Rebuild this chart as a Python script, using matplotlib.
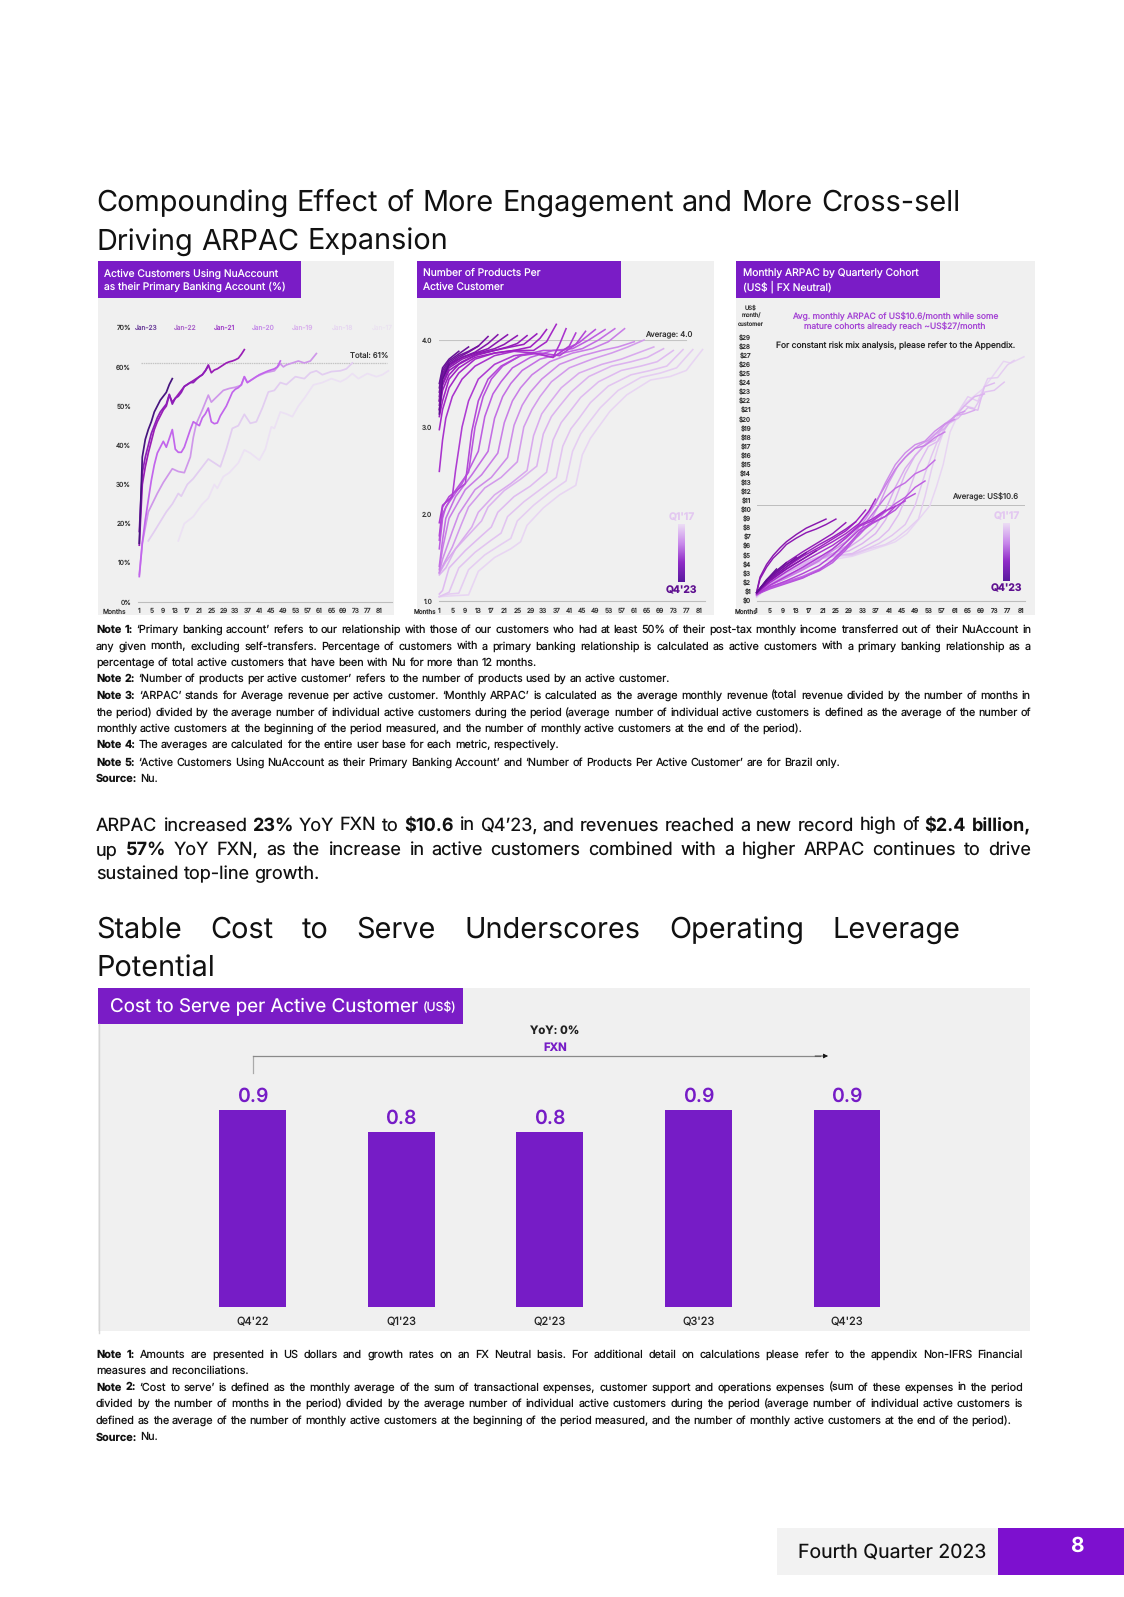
import numpy as np
import matplotlib
matplotlib.use("Agg")
import matplotlib.pyplot as plt
from matplotlib.colors import LinearSegmentedColormap

# ---------- chart 1: primary banking account (%) ----------
jan23_m = [1,2,3,4,5,6,7,8,9,10,11,12]
jan23_v = [15,37,41.5,44,46,48.5,50,51.5,52.5,53.5,55.5,57]
jan22_m = [1,2,3,4,5,6,7,8,9,10,11,12,13,14,15,16,17,18,19,20,21,22,23,24]
jan22_v = [18,33,37,40,43,45,47,48.5,49.5,50.5,53,50.5,52,52.5,53.5,55,55.5,56,56,56.8,57.5,58,59,60.2]
jan21_m = [1,2,3,4,5,6,7,8,9,10,11,12,13,14,15,16,17,18,19,20,21,22,23,24,25,26,27,28,29,30,31,32,33,34,35,36]
jan21_v = [14.5,30,34.5,38,41,44,46,47.5,49,50,52.8,51,52,53,54,55,55.5,56,56.5,57,57.5,58,59,60.5,58.5,59.2,59.5,60,60.5,61,61.3,61.5,61.8,62.2,63.2,64.4]
jan20_m = [1,2,3,4,5,6,7,8,9,10,12,13,14,15,16,18,19,20,21,22,23,24,25,26,27,28,30,32,33,34,35,36,37,39,41,44,46,47,48]
jan20_v = [6.5,15,21,26,31,35,38,39.5,41,39.5,44,39,38.2,38.2,39.5,44,46,45.5,45,47,48,49.5,46,45.5,45.7,47.5,50,53.5,54.3,54.7,55.5,57.5,56,57,58,59,59.5,60,61.5]
jan19_m = [1,2,3,4,7,9,12,14,16,18,19,20,22,24,25,27,29,31,33,35,36,37,40,43,46,48,49,50,52,54,56,58,60]
jan19_v = [7,15,19,23,27.7,30.5,34,33.3,33,37,42,45.5,49,52.8,51,52.5,54,54.5,54.8,55.3,57.5,56,57.5,58.5,59,60.8,60,60.5,61,61.5,61,61.5,63.4]
jan18_m = [4,6,8,10,12,14,15,17,19,21,24,26,28,30,32,34,36,38,40,42,44,46,48,50,53,56,58,60,62,65,68,70,72]
jan18_v = [15.6,18,20.5,23,25,27.7,27,30,31.5,33.5,36.5,35.5,34.5,39,44.3,45,47.9,45.6,46,49.5,53.6,54,56,55.5,57.5,57,58.5,59,58,58.8,59,59.5,61]
jan17_m = [14,16,19,22,24,26,27,29,31,34,36,38,41,43,45,46,48,50,52,54,56,59,62,65,68,70,72,74,77,80,82,84]
jan17_v = [15.6,20,21.8,25,26.5,30,29,32,33,35.5,38.8,38,36.2,39,44.7,44.3,48.5,48,47.3,50,52,55.4,56,57,56.2,57,58.3,57,58.3,57.5,58,59]
nu_labels = ["Jan-23","Jan-22","Jan-21","Jan-20","Jan-19","Jan-18","Jan-17"]
nu_total = 61

# ---------- chart 2: products per active customer, oldest cohort first ----------
p00_m=[1,5,10,13,18,23,26,28,33,38,43,45,47.5,50,53.5,58.7,66,72,77,82]
p00_v=[1.05,1.06,1.07,1.34,1.5,1.6,1.68,1.87,2.07,2.22,2.33,2.68,2.87,3.0,3.18,3.37,3.54,3.58,3.65,3.89]
p01_m=[1,4,7,10,15,20,23,25,30,35,40,42,44.5,47,50.5,56,63,69,74,79]
p01_v=[1.05,1.08,1.09,1.36,1.53,1.65,1.72,1.92,2.1,2.25,2.38,2.72,2.92,3.05,3.22,3.42,3.57,3.62,3.68,3.89]
p02_m=[1,4,7,12,17,20,22,27,32,37,39,41.5,44,47.5,53,60,66,71,76]
p02_v=[1.05,1.1,1.38,1.56,1.7,1.78,1.97,2.14,2.28,2.42,2.78,2.98,3.1,3.28,3.47,3.6,3.65,3.7,3.89]
p03_m=[1,2,4,9,14,17,19,24,29,34,36,38.5,41,44.5,50,57,63,68,73]
p03_v=[1.08,1.12,1.38,1.58,1.75,1.85,2.02,2.2,2.32,2.48,2.85,3.05,3.17,3.34,3.52,3.65,3.7,3.75,3.88]
p04_m=[1,3,6,11,14,16,21,26,31,33,35.5,38,41.5,47,54,60,65,70]
p04_v=[1.3,1.38,1.6,1.8,1.92,2.08,2.27,2.4,2.55,2.92,3.12,3.24,3.4,3.58,3.7,3.75,3.8,3.9]
p05_m=[1,3,8,11,13,18,23,28,30,32.5,35,38.5,44,51,57,62,67]
p05_v=[1.32,1.45,1.7,1.85,2.02,2.22,2.35,2.5,2.9,3.15,3.28,3.45,3.62,3.72,3.78,3.85,3.92]
p06_m=[1,2,5,8,10,15,20,25,27,29.5,32,35.5,41,48,54,59,64]
p06_v=[1.32,1.4,1.62,1.9,2.08,2.3,2.42,2.6,3.0,3.2,3.35,3.52,3.68,3.78,3.85,3.92,4.0]
p07_m=[1,2,5,7,12,17,22,24,26.5,29,32.5,38,45,51,56,61]
p07_v=[1.33,1.48,1.8,2.0,2.28,2.42,2.65,3.02,3.25,3.4,3.55,3.72,3.82,3.88,3.92,3.98]
p08_m=[1,2,4,9,14,19,21,23.5,26,29.5,35,42,48,53,58]
p08_v=[1.36,1.6,1.95,2.28,2.45,2.7,3.05,3.3,3.45,3.6,3.75,3.85,3.9,3.98,4.13]
p09_m=[1,2,3,6,11,16,18,20.5,23,26.5,32,39,45,50,55]
p09_v=[1.4,1.7,1.95,2.2,2.45,2.72,3.1,3.35,3.5,3.65,3.78,3.85,3.9,4.0,4.13]
p10_m=[1,2,3,8,13,15,17.5,20,23.5,29,36,42,47,52]
p10_v=[1.6,1.95,2.08,2.35,2.72,3.12,3.38,3.52,3.68,3.8,3.88,3.9,4.0,4.12]
p11_m=[1,2,5,10,12,14.5,17,20.5,26,33,39,44,49]
p11_v=[1.7,2.0,2.22,2.48,3.0,3.35,3.55,3.7,3.82,3.88,3.88,3.97,4.12]
p12_m=[1,2,4,9,11,13,16,20,26,32,38,43,46]
p12_v=[1.75,2.08,2.2,2.35,2.95,3.3,3.55,3.7,3.82,3.85,3.82,3.95,4.1]
p13_m=[1,2,5,6,8,10,13,18,24,30,36,41,43]
p13_v=[1.9,2.1,2.2,2.5,3.0,3.3,3.55,3.72,3.82,3.85,3.8,3.93,4.08]
p14_m=[1,2,3,5,8,12,18,24,30,36,38,40]
p14_v=[2.49,2.85,3.1,3.35,3.55,3.7,3.82,3.87,3.85,3.8,3.95,4.13]
p15_m=[1,2,4,7,12,18,24,30,34,37]
p15_v=[2.97,3.2,3.45,3.62,3.78,3.85,3.88,3.88,3.98,4.18]
p16_m=[1,2,4,7,12,18,24,29,32,34]
p16_v=[3.12,3.3,3.55,3.68,3.8,3.85,3.88,3.92,4.02,4.12]
p17_m=[1,2,4,7,12,18,23,27,31]
p17_v=[3.2,3.42,3.6,3.72,3.82,3.88,3.92,3.95,4.07]
p18_m=[1,2,4,8,13,18,22,25,28]
p18_v=[3.2,3.48,3.65,3.75,3.84,3.88,3.92,3.96,4.05]
p19_m=[1,2,4,8,13,18,21,25]
p19_v=[3.25,3.5,3.68,3.78,3.85,3.9,3.95,4.05]
p20_m=[1,2,4,8,12,16,19,22]
p20_v=[3.3,3.55,3.7,3.8,3.85,3.9,3.98,4.06]
p21_m=[1,2,4,8,12,16,19]
p21_v=[3.3,3.58,3.72,3.8,3.86,3.96,4.06]
p22_m=[1,2,4,7,10,13,16]
p22_v=[3.35,3.6,3.72,3.8,3.86,3.93,4.04]
p23_m=[1,2,4,7,10,13]
p23_v=[3.4,3.62,3.74,3.82,3.87,3.93]
p24_m=[1,2,4,7,10]
p24_v=[3.45,3.65,3.76,3.84,3.92]
p25_m=[1,2,4,7]
p25_v=[3.5,3.68,3.78,3.87]
p26_m=[1,2,4]
p26_v=[3.15,3.55,3.72]
products_avg = 4.0

# ---------- chart 3: monthly ARPAC, oldest cohort first ----------
a00_m=[1,5,10,15,20,25,30,35,40,43,46.5,49.5,53.5,55.5,57.5,59.6,62,63.6,66,69.7,72,75.8,78,82]
a00_v=[0.4,1.8,2.8,3.6,4.2,4.6,4.9,5.5,6.1,6.5,7.4,8.7,10.5,12.6,15,18.6,20.5,21.6,22.3,23.4,24.5,26.4,26.2,26.9]
a01_m=[1,5,10,15,20,25,30,35,40,43,46.5,50,52,54,56,58,60,62,65,68,71,74,77,79]
a01_v=[0.4,1.7,3.0,3.9,4.6,4.9,5,5.7,6.2,6.8,7.8,9.0,11.5,14.5,17,19,20,20.8,22.5,22,24.5,24.6,26,26.5]
a02_m=[1,5,10,15,20,25,30,35,38,42,46,49,52,54,56,58,61,64,67,70,73,76]
a02_v=[0.5,1.9,3.2,4,4.6,5,5.1,5.8,6.3,7.2,8.4,10.5,14,16,17.8,19,20.3,21.5,21.2,23,23.2,24.1]
a03_m=[1,5,10,15,20,25,30,34,38,41,44,47,50,53,56,59,62,65,68,70,73]
a03_v=[0.5,2,3.4,4.2,4.8,5,5.2,6,6.8,7.8,9.5,12,15,17,17.6,19.5,20.1,21.3,21,23.6,24]
a04_m=[1,5,10,15,20,25,29,33,37,40,43,46,49,52,55,58,61,64,67,70]
a04_v=[0.6,2.1,3.3,4.1,4.9,5.1,5.5,6.3,7.4,8.9,11.2,14,16,17.2,17.7,19.5,20.3,21.5,22.5,22.8]
a05_m=[1,5,10,15,20,25,29,33,37,40,43,46,49,52,55,58,61,64,67]
a05_v=[0.6,2,3.1,3.9,4.7,5.3,5.9,6.9,8.2,10,12.5,14.6,16,17.2,18.3,19,20.4,20.6,21]
a06_m=[1,5,10,15,20,24,28,32,35,38,41,44,47,50,53,56,59,62,64]
a06_v=[0.6,1.8,2.8,3.6,4.5,5.2,6,7.2,8.5,10.5,13,15,16.2,17.1,17.7,18.7,19.7,20.6,20.9]
a07_m=[1,5,10,15,20,24,28,31,34,37,40,43,46,49,52,55,58,61]
a07_v=[0.6,1.7,2.6,3.5,4.5,5.5,6.5,7.6,9,10.7,13,15,16.3,17.2,17.6,18.7,19.5,20]
a08_m=[1,5,10,15,20,24,28,31,34,37,40,43,46,49,52,55,58]
a08_v=[0.6,1.7,2.5,3.4,4.4,5.7,6.9,8,9.3,10.8,12.7,14.5,15.8,16.8,17.1,18,18.6]
a09_m=[1,5,10,15,20,24,28,31,34,37,40,43,46,49,52,55]
a09_v=[0.7,1.5,2.1,2.7,3.5,4.4,5.8,7,8.6,10,11.4,12.4,13,14,14.5,15.5]
a10_m=[1,5,10,15,20,24,28,31,34,37,40,43,46,49,52]
a10_v=[0.7,1.4,2,2.6,3.3,4.2,5.6,6.9,8,9,9.8,10.7,11.4,12.5,13.2]
a11_m=[1,5,10,15,20,24,28,32,36,40,43,46,49]
a11_v=[0.7,1.3,1.9,2.5,3.4,4.5,5.9,7.5,8.5,9.3,10,11.2,11.8]
a12_m=[1,5,10,15,20,24,28,32,36,40,43,46]
a12_v=[0.7,1.5,2.2,3,3.9,5,6.4,7.8,8.6,9.3,10.4,11]
a13_m=[1,5,10,15,20,24,28,32,36,40,43]
a13_v=[0.7,1.7,2.7,3.7,4.8,5.7,6.9,8.2,8.8,9.9,10.4]
a14_m=[1,5,10,15,20,24,28,32,36,40]
a14_v=[0.8,2,3.2,4.3,5.3,6.1,7.1,8.3,9,10]
a15_m=[1,5,10,15,20,24,28,32,35,37]
a15_v=[0.8,2.2,3.5,4.6,5.7,6.5,7.4,8.5,9.9,11.2]
a16_m=[1,5,10,15,20,24,28,31,34]
a16_v=[0.8,2.3,3.7,4.9,5.9,6.8,7.7,8.7,10]
a17_m=[1,5,10,15,20,24,28,31]
a17_v=[0.9,2.5,4,5.1,6.2,7,7.9,8.7]
a18_m=[1,5,10,15,20,24,28]
a18_v=[0.9,2.6,4.2,5.4,6.5,7.4,8.6]
a19_m=[1,2,4,6,8,10,13,16,19,22,25]
a19_v=[0.9,2.4,3.7,4.7,5.4,6.2,6.9,7.5,7.9,8.4,9]
a20_m=[1,2,4,6,8,10,13,16,19,22]
a20_v=[1,2.6,4,5,5.8,6.5,7.3,8,8.5,9]
a21_m=[1,5,10,15,19]
a21_v=[0.9,2.2,3.5,4.6,5.5]
a22_m=[1,4,8,12,16]
a22_v=[0.9,2.1,3.2,4.3,5.3]
a23_m=[1,4,8,13]
a23_v=[0.9,2.2,3.4,4.8]
a24_m=[1,4,7,10]
a24_v=[0.9,2.3,3.3,4.2]
a25_m=[1,4,7]
a25_v=[0.9,2.3,3.5]
a26_m=[1,4]
a26_v=[0.9,2.2]
arpac_avg = 10.6

# ---------- chart 4: cost to serve ----------
cost_quarters = ["Q4'22","Q1'23","Q2'23","Q3'23","Q4'23"]
cost_values = [0.9,0.8,0.8,0.9,0.9]
month_ticks = list(range(1,82,4))

# ---------- text ----------
title1 = ["Compounding Effect of More Engagement and More Cross-sell","Driving ARPAC Expansion"]
title2 = ["Stable Cost to Serve Underscores Operating Leverage","Potential"]
notes1 = [
 ("**Note** **1:** ‘Primary banking account’ refers to our relationship with those of our customers who had at least 50% of their post-tax monthly income transferred out of their NuAccount in",True),
 ("any given month, excluding self-transfers. Percentage of customers with a primary banking relationship is calculated as active customers with a primary banking relationship as a",True),
 ("percentage of total active customers that have been with Nu for more than 12 months.",False),
 ("**Note** **2:** ‘Number of products per active customer’ refers to the number of products used by an active customer.",False),
 ("**Note** **3:** ‘ARPAC’ stands for Average revenue per active customer. ‘Monthly ARPAC’ is calculated as the average monthly revenue (total revenue divided by the number of months in",True),
 ("the period) divided by the average number of individual active customers during the period (average number of individual active customers is defined as the average of the number of",True),
 ("monthly active customers at the beginning of the period measured, and the number of monthly active customers at the end of the period).",False),
 ("**Note** **4:** The averages are calculated for the entire user base for each metric, respectively.",False),
 ("**Note** **5:** ‘Active Customers Using NuAccount as their Primary Banking Account’ and ‘Number of Products Per Active Customer’ are for Brazil only.",False),
 ("**Source:** Nu.",False)]
para = [
 ("ARPAC increased **23%** YoY FXN to **$10.6** in Q4’23, and revenues reached a new record high of **$2.4** **billion,**",True),
 ("up **57%** YoY FXN, as the increase in active customers combined with a higher ARPAC continues to drive",True),
 ("sustained top-line growth.",False)]
notes2 = [
 ("**Note** **1:** Amounts are presented in US dollars and growth rates on an FX Neutral basis. For additional detail on calculations please refer to the appendix Non-IFRS Financial",True),
 ("measures and reconciliations.",False),
 ("**Note** **2:** ‘Cost to serve’ is defined as the monthly average of the sum of transactional expenses, customer support and operations expenses (sum of these expenses in the period",True),
 ("divided by the number of months in the period) divided by the average number of individual active customers during the period (average number of individual active customers is",True),
 ("defined as the average of the number of monthly active customers at the beginning of the period measured, and the number of monthly active customers at the end of the period).",False),
 ("**Source:** Nu.",False)]

# ---------- drawing ----------
W, H = 1124, 1597
PURPLE = "#7a1cc6"
PANEL = "#f0f0f0"
FONT = "Inter"
plt.rcParams['font.family'] = [FONT, 'DejaVu Sans']
plt.rcParams['text.hinting'] = 'no_hinting'
plt.rcParams['text.hinting_factor'] = 1
fig = plt.figure(figsize=(W/100, H/100), dpi=100, facecolor="white")
bg = fig.add_axes([0,0,1,1], zorder=0)
bg.set_xlim(0,W); bg.set_ylim(H,0); bg.axis("off")
rend = fig.canvas.get_renderer()

def rect(x0,y0,x1,y1,c):
    bg.fill([x0,x1,x1,x0],[y0,y0,y1,y1],color=c,lw=0)

def width(word,size,weight,family):
    t = bg.text(0,0,word,fontsize=size,fontweight=weight,family=family)
    w = t.get_window_extent(rend).width
    t.remove()
    return w

def line(s,y,x0,x1,size,just,family="Inter",color="#111111"):
    words = s.split(" ")
    parts = []
    for w in words:
        b = w.startswith("**") and w.endswith("**")
        parts.append((w.strip("*"), "bold" if b else "normal"))
    ws = [width(p,size,wt,family) for p,wt in parts]
    space = width("a a",size,"normal",family)-width("aa",size,"normal",family)
    if just and len(parts) > 1:
        space = (x1-x0-sum(ws))/(len(parts)-1)
    x = x0
    base = y+0.36*size*100/72
    for (p,wt),wd in zip(parts,ws):
        bg.text(x,base,p,fontsize=size,fontweight=wt,family=family,color=color,va="baseline",ha="left")
        x += wd+space

def px_axes(x0,x1,ytop,ybot):
    a = fig.add_axes([x0/W,1-ybot/H,(x1-x0)/W,(ybot-ytop)/H],zorder=2)
    a.patch.set_alpha(0)
    for k in ("top","right","left"):
        a.spines[k].set_visible(False)
    a.spines["bottom"].set_color("#bdbdbd")
    a.spines["bottom"].set_linewidth(0.8)
    return a

TC = "#333333"
# panels + headers
for x0,x1,xh in [(98,394,301),(417,714,621),(736,1035,940)]:
    rect(x0,261,x1,615,PANEL)
    rect(x0,261,xh,298,PURPLE)
for x,a,b in [(104,"Active Customers Using NuAccount","as their Primary Banking Account (%)"),
              (423,"Number of Products Per","Active Customer"),
              (743,"Monthly ARPAC by Quarterly Cohort","(US$ | FX Neutral)")]:
    bg.text(x,273.5,a,color="white",fontsize=7.4,va="center")
    bg.text(x,287,b,color="white",fontsize=7.4,va="center")

# chart 1
ax1 = px_axes(138,392,327.7,602)
ax1.set_xlim(0.57,85.2); ax1.set_ylim(0,70)
nu_series = [(jan17_m,jan17_v,"#ece1f4"),(jan18_m,jan18_v,"#e2cdf1"),(jan19_m,jan19_v,"#cf97ea"),
             (jan20_m,jan20_v,"#c265ec"),(jan21_m,jan21_v,"#9a1db6"),(jan22_m,jan22_v,"#8e1fb8"),(jan23_m,jan23_v,"#47147f")]
ax1.axhline(nu_total,xmin=0.01,xmax=0.98,color="#c4c4c4",lw=0.9,ls=(0,(1.2,0.6)))
for m,v,c in nu_series:
    ax1.plot(m,v,color=c,lw=1.25,clip_on=False)
ax1.set_yticks(range(0,71,10)); ax1.set_yticklabels([f"{i}%" for i in range(0,71,10)])
ax1.set_xticks(month_ticks)
ax1.tick_params(axis="both",length=0,labelsize=4.8,labelcolor=TC)
ax1.tick_params(axis="x",pad=4.5); ax1.tick_params(axis="y",pad=5)
bg.text(114,612,"Months",fontsize=4.8,color=TC,ha="center",va="center")
bg.text(369,356,f"Total: {nu_total}%",fontsize=5.6,color=TC,ha="center",va="center")
for lab,x,c in zip(nu_labels,[146,185,224,263,303,343,382],
                   ["#6a3d99","#a860c8","#a040c8","#c48ae8","#d8b0ec","#e6d6f0","#ebe3f0"]):
    bg.text(x,328,lab,fontsize=4.8,color=c,ha="center",va="center")

# chart 2
cmap = LinearSegmentedColormap.from_list("nu",["#e8d5f3","#d8a8ee","#bb58e0","#a122c4","#8415ab","#5e1090"])
ax2 = px_axes(439.3,705,340,601)
ax2.set_xlim(1,82.75); ax2.set_ylim(1,4)
prod = [(p00_m,p00_v),(p01_m,p01_v),(p02_m,p02_v),(p03_m,p03_v),(p04_m,p04_v),(p05_m,p05_v),(p06_m,p06_v),
        (p07_m,p07_v),(p08_m,p08_v),(p09_m,p09_v),(p10_m,p10_v),(p11_m,p11_v),(p12_m,p12_v),(p13_m,p13_v),
        (p14_m,p14_v),(p15_m,p15_v),(p16_m,p16_v),(p17_m,p17_v),(p18_m,p18_v),(p19_m,p19_v),(p20_m,p20_v),
        (p21_m,p21_v),(p22_m,p22_v),(p23_m,p23_v),(p24_m,p24_v),(p25_m,p25_v),(p26_m,p26_v)]
ax2.axhline(products_avg,xmax=0.93,color="#c4c4c4",lw=0.8)
for i,(m,v) in enumerate(prod):
    ax2.plot(m,v,color=cmap(i/26),lw=1.15,clip_on=False)
ax2.set_yticks([1,2,3,4]); ax2.set_yticklabels(["1.0","2.0","3.0","4.0"])
ax2.set_xticks(month_ticks)
ax2.tick_params(axis="both",length=0,labelsize=4.8,labelcolor=TC)
ax2.tick_params(axis="x",pad=5); ax2.tick_params(axis="y",pad=5)
bg.text(425,612,"Months",fontsize=4.6,color=TC,ha="center",va="center")
bg.text(669,334,"Average: 4.0",fontsize=5.6,color=TC,ha="center",va="center")

# chart 3
ax3 = px_axes(756.7,1025,337.7,600.7)
ax3.set_xlim(1,82.3); ax3.set_ylim(0,29)
arp = [(a00_m,a00_v),(a01_m,a01_v),(a02_m,a02_v),(a03_m,a03_v),(a04_m,a04_v),(a05_m,a05_v),(a06_m,a06_v),
       (a07_m,a07_v),(a08_m,a08_v),(a09_m,a09_v),(a10_m,a10_v),(a11_m,a11_v),(a12_m,a12_v),(a13_m,a13_v),
       (a14_m,a14_v),(a15_m,a15_v),(a16_m,a16_v),(a17_m,a17_v),(a18_m,a18_v),(a19_m,a19_v),(a20_m,a20_v),
       (a21_m,a21_v),(a22_m,a22_v),(a23_m,a23_v),(a24_m,a24_v),(a25_m,a25_v),(a26_m,a26_v)]
ax3.axhline(arpac_avg,color="#bdbdbd",lw=0.7)
for i,(m,v) in enumerate(arp):
    ax3.plot(m,v,color=cmap(i/26),lw=1.05,clip_on=False)
ax3.set_yticks(range(0,30)); ax3.set_yticklabels([f"${i}" for i in range(0,30)])
ax3.set_xticks(month_ticks)
ax3.tick_params(axis="both",length=0,labelsize=4.6,labelcolor=TC)
ax3.tick_params(axis="x",pad=5); ax3.tick_params(axis="y",pad=4)
bg.text(746,612,"Months",fontsize=4.6,color=TC,ha="center",va="center")
for y,s in [(308,"US$"),(316,"month/"),(324,"customer")]:
    bg.text(751,y,s,fontsize=4.2,color=TC,ha="center",va="center")
bg.text(895,316,"Avg. monthly ARPAC of US$10.6/month while some",fontsize=6.1,color="#a443d4",ha="center",va="center")
bg.text(895,326.5,"mature cohorts already reach ~US$27/month",fontsize=6.1,color="#a443d4",ha="center",va="center")
bg.text(896,346,"For constant risk mix analysis, please refer to the Appendix.",fontsize=6.1,color="#222222",ha="center",va="center")
bg.text(985,497,f"Average: US${arpac_avg}",fontsize=5.6,color=TC,ha="center",va="center")

# cohort gradient keys
ramp = np.arange(64)[:,None]/63
for xc,yq1,ya,yb,yq4 in [(681.5,518,524,582,591),(1006.5,517,523,581,589)]:
    bg.imshow(ramp,extent=(xc-3.5,xc+3.5,yb,ya),cmap=LinearSegmentedColormap.from_list("k",["#ecdcf5","#c98aeb","#8f2bc7","#5a1a9e"]),aspect="auto",zorder=1)
    bg.text(xc,yq1,"Q1'17",fontsize=7.4,fontweight="bold",color="#e3c8f1",ha="center",va="center")
    bg.text(xc,yq4,"Q4'23",fontsize=7.4,fontweight="bold",color="#5e1090",ha="center",va="center")
bg.set_xlim(0,W); bg.set_ylim(H,0)

# chart 4
rect(98,988,1030,1331,PANEL)
rect(98,988,463,1024,PURPLE)
bg.plot([99,99],[1024,1333],color="#d6d6d6",lw=1)
bg.text(110,1007,"Cost to Serve per Active Customer",color="white",fontsize=13.5,va="center")
bg.text(423,1008,"(US$)",color="white",fontsize=8.8,va="center")
ax4 = px_axes(178.2,921.3,1110,1307)
ax4.spines["bottom"].set_visible(False)
ax4.set_xlim(-0.5,4.5); ax4.set_ylim(0,0.9)
ax4.bar(range(len(cost_values)),cost_values,width=0.45,color="#761cc6")
ax4.set_yticks([])
ax4.set_xticks(range(len(cost_quarters))); ax4.set_xticklabels(cost_quarters)
ax4.tick_params(axis="x",length=0,labelsize=8,pad=7,labelcolor="#222222")
for i,v in enumerate(cost_values):
    ax4.annotate(f"{v}",(i,v),xytext=(0,9.8),textcoords="offset points",ha="center",va="center",
                 fontsize=14,fontweight="semibold",color="#761cc6",annotation_clip=False)
bg.plot([253,253],[1073,1056],color="#aaaaaa",lw=0.9)
bg.plot([253,820],[1056,1056],color="#8a8a8a",lw=0.9)
bg.annotate("",xy=(828,1056),xytext=(815,1056),arrowprops=dict(arrowstyle="-|>",color="#111111",lw=0.5,mutation_scale=7,shrinkA=0,shrinkB=0))
bg.text(555,1031,"YoY: 0%",fontsize=8.2,fontweight="bold",color="#222222",ha="center",va="center")
bg.text(555,1048,"FXN",fontsize=8.2,fontweight="bold",color="#761cc6",ha="center",va="center")

# page text
TF = "Inter"
line(title1[0],200.5,96,960,20.8,True,family=TF)
line(title1[1],239,96,960,20.8,False,family=TF)
for (s,j),y in zip(notes1,[629,645.5,662,678,695,711.5,728,744,761.5,778]):
    line(s,y,96,1031,7.8,j)
for (s,j),y in zip(para,[824,848.5,872.5]):
    line(s,y,96,1031,13,j)
line(title2[0],927.5,96,960,20.8,True,family=TF)
line(title2[1],966,96,960,20.8,False,family=TF)
for (s,j),y in zip(notes2,[1354,1370,1386.5,1403,1420,1436.5]):
    line(s,y,96,1023,7.8,j)

# footer
rect(777,1528,998,1575,"#f2f2f2")
rect(998,1528,1124,1575,"#7d10cf")
bg.text(892,1552.5,"Fourth Quarter 2023",fontsize=14,family=TF,color="#111111",ha="center",va="center")
bg.text(1077,1546,"8",fontsize=15,fontweight="bold",family=TF,color="white",ha="center",va="center")

fig.savefig("out.png",dpi=100,facecolor="white")
